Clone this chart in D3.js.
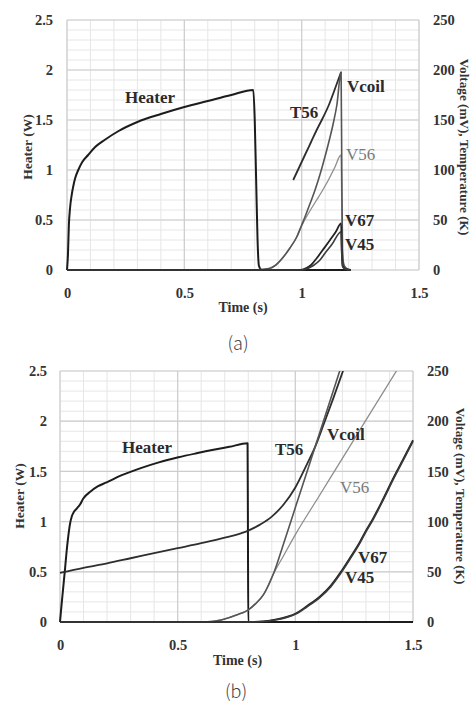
<!DOCTYPE html>
<html>
<head>
<meta charset="utf-8">
<script src="https://cdn.jsdelivr.net/npm/d3@7"></script>
<style>
  html, body { margin: 0; padding: 0; background: #fff; }
  svg text { font-family: 'Liberation Serif', 'Times New Roman', serif; }
</style>
</head>
<body>
<svg id="chart" width="476" height="705"></svg>
<script>
// ---------------- DATA ----------------
const xTicks = [0, 0.5, 1, 1.5];
const leftTicks = [0, 0.5, 1, 1.5, 2, 2.5];
const rightTicks = [0, 50, 100, 150, 200, 250];
const xMinorTicks = d3.range(0, 1.5001, 0.1);
const leftMinorTicks = d3.range(0, 2.5001, 0.1);

// Panel (a)  [time (s), value]  — heater in W, others in mV / K
const aHeater = [[0,0],[0.004,0.15],[0.008,0.45],[0.013,0.62],[0.02,0.75],[0.027,0.84],[0.035,0.92],[0.048,1.0],[0.065,1.08],[0.09,1.15],[0.12,1.23],[0.16,1.3],[0.22,1.39],[0.3,1.48],[0.4,1.56],[0.5,1.63],[0.6,1.69],[0.7,1.75],[0.794,1.80],[0.8,1.5],[0.806,0.9],[0.812,0.3],[0.818,0.04],[0.83,0],[1.21,0]];
const aT56 = [[0.964,90],[0.98,98],[1.0,108],[1.02,118],[1.04,128],[1.064,140],[1.09,152],[1.114,164],[1.14,180],[1.168,198]];
const aVcoil = [[0,0],[0.8,0],[0.83,0.5],[0.865,1.7],[0.89,5],[0.922,13],[0.95,22],[0.979,33],[1.0,45],[1.014,53],[1.035,66],[1.057,80],[1.08,97],[1.099,113],[1.12,132],[1.135,147],[1.15,165],[1.168,198],[1.171,100],[1.174,20],[1.18,5],[1.195,1],[1.21,0]];
const aV56 = [[0,0],[0.8,0],[0.83,0.5],[0.865,1.7],[0.89,5],[0.922,13],[0.95,22],[0.979,33],[1.0,44],[1.02,53],[1.04,61],[1.064,70],[1.09,80],[1.114,90],[1.14,102],[1.168,115],[1.171,60],[1.175,10],[1.19,1],[1.21,0]];
const aV67 = [[0,0],[0.99,0],[1.02,2],[1.04,5],[1.064,11.7],[1.09,20],[1.121,30],[1.145,38],[1.168,46.7],[1.171,20],[1.175,4],[1.19,0.5],[1.21,0]];
const aV45 = [[0,0],[1.0,0],[1.03,2],[1.05,4.5],[1.078,10],[1.1,17],[1.13,26],[1.168,38.3],[1.171,15],[1.175,3],[1.19,0.5],[1.21,0]];

// Panel (b)
const bHeater = [[0,0],[0.007,0.18],[0.014,0.35],[0.021,0.52],[0.028,0.7],[0.035,0.85],[0.042,0.97],[0.05,1.05],[0.06,1.1],[0.071,1.13],[0.085,1.17],[0.099,1.23],[0.13,1.3],[0.16,1.35],[0.198,1.39],[0.26,1.46],[0.34,1.53],[0.42,1.59],[0.503,1.64],[0.58,1.68],[0.652,1.715],[0.72,1.745],[0.797,1.78],[0.7985,1.0],[0.8,0],[1.5,0]];
const bT56 = [[0,49],[0.1,54],[0.2,58.5],[0.3,63.5],[0.4,68.5],[0.5,73.5],[0.6,78.5],[0.7,84],[0.79,90],[0.85,97],[0.9,105],[0.95,117],[1.0,134],[1.048,156.5],[1.085,175],[1.119,196],[1.16,222],[1.204,251]];
const bVcoil = [[0,0],[0.6,0],[0.652,0.6],[0.7,3],[0.75,7],[0.8,12],[0.83,18],[0.864,27],[0.907,48],[0.95,78],[1.0,114],[1.05,150],[1.1,186],[1.15,222],[1.19,251]];
const bV56 = [[0,0],[0.6,0],[0.652,0.6],[0.7,3],[0.75,7],[0.8,12],[0.83,18],[0.864,27],[0.907,48],[0.95,66],[1.0,87],[1.1,125],[1.2,163],[1.3,201],[1.44,254]];
const bV67 = [[0,0],[0.8,0],[0.864,0.6],[0.92,2.5],[0.963,5],[1.006,9],[1.05,16],[1.105,25.5],[1.15,36],[1.19,48.7],[1.23,63],[1.275,80],[1.3,91],[1.33,103],[1.37,121],[1.42,145],[1.46,163],[1.5,181]];
const bV45 = [[0,0],[0.8,0],[0.864,0.5],[0.92,2.2],[0.963,4.6],[1.006,8.5],[1.05,15.2],[1.105,24.6],[1.15,35],[1.19,47.6],[1.23,61.8],[1.275,78.8],[1.3,89.8],[1.33,101.8],[1.37,119.8],[1.42,143.8],[1.46,161.8],[1.5,179.8]];

const seriesNames = ["Heater", "T56", "V56", "Vcoil", "V67", "V45"];

// ---------------- DRAW ----------------
const svg = d3.select("#chart");
const SERIF = "'Liberation Serif', 'Times New Roman', serif";

const styles = {
  Heater: { stroke: "#1c1c1c", width: 2.0, axis: "left" },
  T56:    { stroke: "#2e2e2e", width: 1.8, axis: "right" },
  V56:    { stroke: "#8e8e8e", width: 1.3, axis: "right" },
  Vcoil:  { stroke: "#555555", width: 1.6, axis: "right" },
  V67:    { stroke: "#222222", width: 1.8, axis: "right" },
  V45:    { stroke: "#3a3a3a", width: 1.6, axis: "right" }
};

function drawPanel(cfg, data) {
  const g = svg.append("g");
  const x = d3.scaleLinear().domain([0, 1.5]).range([cfg.left, cfg.right]);
  const yL = d3.scaleLinear().domain([0, 2.5]).range([cfg.bottom, cfg.top]);
  const yR = d3.scaleLinear().domain([0, 250]).range([cfg.bottom, cfg.top]);

  const clipId = "clip" + cfg.id;
  svg.append("clipPath").attr("id", clipId).append("rect")
    .attr("x", cfg.left - 1).attr("y", cfg.top).attr("width", cfg.right - cfg.left + 2).attr("height", cfg.bottom - cfg.top + 2);

  // minor grid
  g.selectAll(".vminor").data(xMinorTicks).join("line")
    .attr("x1", d => x(d)).attr("x2", d => x(d)).attr("y1", cfg.top).attr("y2", cfg.bottom)
    .attr("stroke", "#e6e6e6").attr("stroke-width", 1);
  g.selectAll(".hminor").data(leftMinorTicks).join("line")
    .attr("x1", cfg.left).attr("x2", cfg.right).attr("y1", d => yL(d)).attr("y2", d => yL(d))
    .attr("stroke", "#e6e6e6").attr("stroke-width", 1);
  // major grid
  g.selectAll(".vmajor").data(xTicks).join("line")
    .attr("x1", d => x(d)).attr("x2", d => x(d)).attr("y1", cfg.top).attr("y2", cfg.bottom)
    .attr("stroke", "#cdcdcd").attr("stroke-width", 1.2);
  g.selectAll(".hmajor").data(leftTicks).join("line")
    .attr("x1", cfg.left).attr("x2", cfg.right).attr("y1", d => yL(d)).attr("y2", d => yL(d))
    .attr("stroke", "#cdcdcd").attr("stroke-width", 1.2);

  // axes (labels only) via d3 axes
  const ax = g.append("g").attr("transform", `translate(0,${cfg.bottom})`)
    .call(d3.axisBottom(x).tickValues(xTicks).tickFormat(d => String(d)).tickSize(0).tickPadding(cfg.xPad));
  const axL = g.append("g").attr("transform", `translate(${cfg.left},0)`)
    .call(d3.axisLeft(yL).tickValues(leftTicks).tickFormat(d => String(d)).tickSize(0).tickPadding(cfg.lPad));
  const axR = g.append("g").attr("transform", `translate(${cfg.right},0)`)
    .call(d3.axisRight(yR).tickValues(rightTicks).tickFormat(d => String(d)).tickSize(0).tickPadding(cfg.rPad));
  [ax, axL, axR].forEach(a => {
    a.attr("font-family", null).attr("font-size", null);
    a.select(".domain").remove();
    a.selectAll("text").style("font-family", SERIF).style("font-size", "14.5px")
      .style("font-weight", "bold").attr("fill", "#333");
  });

  // lines
  const plot = g.append("g").attr("clip-path", `url(#${clipId})`);
  seriesNames.forEach(name => {
    const st = styles[name];
    const ys = st.axis === "left" ? yL : yR;
    const line = d3.line().x(d => x(d[0])).y(d => ys(d[1])).curve(d3.curveMonotoneX);
    plot.append("path").datum(data[name]).attr("d", line)
      .attr("fill", "none").attr("stroke", st.stroke).attr("stroke-width", st.width)
      .attr("stroke-linejoin", "round");
  });

  // series labels
  cfg.labels.forEach(l => {
    g.append("text").attr("x", l.x).attr("y", l.y).text(l.name)
      .style("font-family", SERIF)
      .attr("font-size", 17).attr("font-weight", l.name === "V56" ? "normal" : "bold")
      .attr("fill", l.name === "V56" ? "#7a7a7a" : "#2a2a2a");
  });

  // axis titles
  g.append("text").attr("x", (cfg.left + cfg.right) / 2 + cfg.titleDx).attr("y", cfg.xTitleY)
    .style("font-family", SERIF)
    .attr("text-anchor", "middle").attr("font-size", 14).attr("font-weight", "bold").attr("fill", "#333")
    .text("Time (s)");
  g.append("text").attr("transform", `translate(${cfg.lTitleX},${cfg.titleCy}) rotate(-90)`)
    .style("font-family", SERIF)
    .attr("text-anchor", "middle").attr("dy", "0.35em").attr("font-size", 13.5).attr("font-weight", "bold").attr("fill", "#333")
    .text("Heater (W)");
  g.append("text").attr("transform", `translate(${cfg.rTitleX},${cfg.titleCy}) rotate(90)`)
    .style("font-family", SERIF)
    .attr("text-anchor", "middle").attr("dy", "0.35em").attr("font-size", 13.2).attr("font-weight", "bold").attr("fill", "#333")
    .text("Voltage (mV), Temperature (K)");

  // panel caption
  g.append("text").attr("x", cfg.capX).attr("y", cfg.capY).attr("text-anchor", "middle")
    .style("font-family", "'Noto Sans CJK KR', 'Noto Sans', sans-serif").attr("font-size", 18)
    .attr("font-weight", 300).attr("fill", "#444").text(cfg.caption);
}

drawPanel({
  id: "a", left: 67, right: 419, top: 20, bottom: 270,
  xPad: 18, lPad: 14, rPad: 14,
  xTitleY: 312, titleDx: 0, lTitleX: 27, rTitleX: 465, titleCy: 147,
  capX: 238, capY: 350, caption: "(a)",
  labels: [
    { name: "Heater", x: 125, y: 103 },
    { name: "Vcoil", x: 347, y: 92 },
    { name: "T56", x: 290, y: 118 },
    { name: "V56", x: 346, y: 160 },
    { name: "V67", x: 345, y: 226 },
    { name: "V45", x: 345, y: 250 }
  ]
}, { Heater: aHeater, T56: aT56, V56: aV56, Vcoil: aVcoil, V67: aV67, V45: aV45 });

drawPanel({
  id: "b", left: 60, right: 413, top: 371, bottom: 622,
  xPad: 18, lPad: 13, rPad: 14,
  xTitleY: 665, titleDx: 1, lTitleX: 19, rTitleX: 461, titleCy: 496,
  capX: 236, capY: 698, caption: "(b)",
  labels: [
    { name: "Heater", x: 122, y: 453 },
    { name: "T56", x: 275, y: 455 },
    { name: "Vcoil", x: 327, y: 440 },
    { name: "V56", x: 340, y: 493 },
    { name: "V67", x: 358, y: 563 },
    { name: "V45", x: 345, y: 583 }
  ]
}, { Heater: bHeater, T56: bT56, V56: bV56, Vcoil: bVcoil, V67: bV67, V45: bV45 });
</script>
</body>
</html>
